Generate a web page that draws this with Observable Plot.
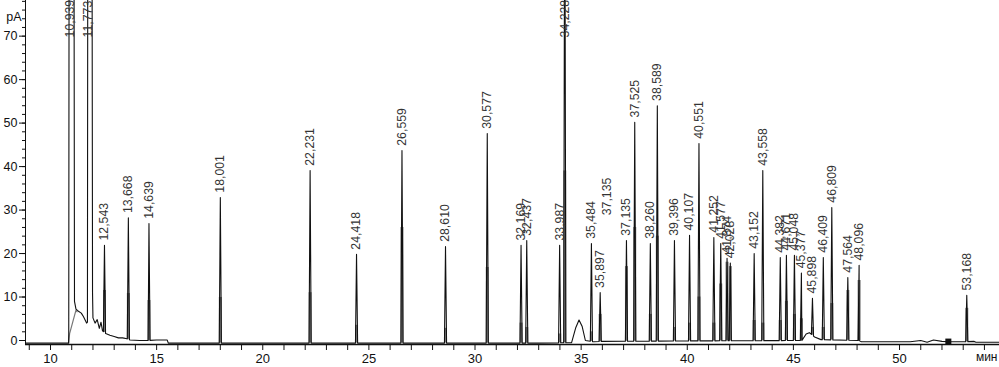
<!DOCTYPE html>
<html>
<head>
<meta charset="utf-8">
<script src="https://cdn.jsdelivr.net/npm/d3@7"></script>
<script src="https://cdn.jsdelivr.net/npm/@observablehq/plot@0.6"></script>
<style>
  html, body { margin: 0; padding: 0; background: #fff; }
  #chart { width: 999px; height: 367px; }
</style>
</head>
<body>
<div id="chart"></div>
<script>
// ---- Data ----
const xDomain = [8.822, 54.71];       // minutes
const yDomain = [-0.92, 78.2];        // pA

// narrow peaks: retention time (min), apex height (pA), height of the grey lower part (pA)
const peakTimes   = [12.543, 13.668, 14.639, 18.001, 22.231, 24.418, 26.559, 28.610, 30.577, 32.169, 32.437, 33.987, 34.228, 35.484, 35.897, 37.135, 37.525, 38.260, 38.589, 39.396, 40.107, 40.551, 41.252, 41.577, 41.874, 42.028, 43.152, 43.558, 44.382, 44.671, 45.048, 45.377, 45.898, 46.409, 46.809, 47.564, 48.096, 53.168];
const peakHeights = [21.9, 28.2, 26.9, 32.9, 39.1, 19.8, 43.7, 21.6, 47.6, 21.9, 23.0, 21.9, 120, 22.3, 11.0, 23.0, 50.2, 22.3, 54.0, 23.0, 24.2, 45.3, 23.7, 22.3, 18.9, 17.8, 20.0, 39.1, 19.1, 19.6, 19.6, 15.5, 9.7, 19.1, 30.6, 14.5, 17.3, 10.4];
const greyHeights = [11.5, 10.8, 9.2, 9.9, 11.0, 3.5, 26.0, 2.8, 16.8, 4.0, 3.0, 1.5, 39.0, 2.0, 6.0, 17.0, 26.0, 6.0, 24.0, 3.0, 4.0, 10.0, 4.0, 13.0, 18.0, 17.0, 4.6, 4.0, 4.6, 9.0, 6.0, 5.0, 3.0, 3.0, 8.5, 11.5, 13.8, 7.4];

// off-scale solvent peaks (labels only; their trace is in the baseline points)
const solventTimes = [10.939, 11.773];

// baseline / solvent tail / broad humps: [minutes, pA]
const baselinePts = [
  [8.822, -0.6], [10.85, -0.6], [10.86, 1.6], [10.88, 120], [11.10, 120], [11.13, 9.0],
  [11.2, 7.2], [11.3, 6.8], [11.45, 6.3], [11.55, 5.5], [11.7, 4.0], [11.74, 4.2],
  [11.76, 120], [11.95, 120], [11.98, 11.0], [12.0, 5.2], [12.1, 4.0], [12.2, 4.8],
  [12.3, 2.8], [12.38, 4.2], [12.45, 2.2], [12.6, 1.6], [12.8, 1.2], [13.0, 0.9],
  [13.2, 0.6], [13.4, 0.6], [13.6, 0.4], [13.75, 0.1], [14.2, 0.0], [14.6, 0.0],
  [15.0, 0.1], [15.5, 0.1], [15.55, -0.6], [33.0, -0.6], [34.55, -0.5], [34.75, 3.0],
  [34.9, 4.7], [35.05, 3.2], [35.2, 0.0], [35.6, -0.3], [36.0, -0.2], [40.0, -0.1],
  [45.4, 0.0], [45.6, 1.5], [45.75, 1.8], [46.0, 0.8], [46.3, 0.2], [48.1, 0.0],
  [48.2, -0.3], [50.5, -0.3], [51.0, 0.0], [51.3, -0.4], [51.6, 0.1], [52.0, -0.2],
  [52.4, -0.3], [53.0, -0.3], [53.5, -0.2], [53.6, -0.4], [54.71, -0.4]
];

// grey fronting line under the solvent peak: [minutes, pA]
const solventFront = [[10.86, -0.6], [10.9, 1.6], [11.2, 7.0], [11.25, 6.6]];

// stray label printed over the 35.9 min peak in the original
const extraLabels = [{t: 36.2, v: 28.8, text: "37,135"}];

// black marker on the baseline
const markerPts = [[52.3, -0.25]];

// axis ticks
const xTicks = d3.range(9, 55, 1);
const yMinorTicks = d3.range(0, 79, 2);
const yMajorTicks = d3.range(0, 71, 10);

// ---- Build tables ----
function baseAt(t) {
  for (let i = 1; i < baselinePts.length; i++) {
    const [t0, v0] = baselinePts[i - 1], [t1, v1] = baselinePts[i];
    if (t <= t1) return v0 + (v1 - v0) * (t - t0) / (t1 - t0);
  }
  return baselinePts[baselinePts.length - 1][1];
}
const halfW = 0.05;
const peaks = peakTimes.map((t, i) => ({t, h: peakHeights[i], g: greyHeights[i], b: baseAt(t)}));
const trace = baselinePts.map(([t, v]) => ({t, v}));
for (const p of peaks) {
  trace.push({t: p.t - halfW, v: baseAt(p.t - halfW)});
  trace.push({t: p.t, v: p.h});
  trace.push({t: p.t + halfW, v: baseAt(p.t + halfW)});
}
trace.sort((a, b) => a.t - b.t);

const fmt = t => t.toFixed(3).replace(".", ",");
const labelTop = 69.7;
const labels = [
  ...solventTimes.map(t => ({t, ly: labelTop, text: fmt(t)})),
  ...peaks.map(p => ({t: p.t, ly: p.h > labelTop ? labelTop : p.h + 1.1, text: fmt(p.t)})),
  ...extraLabels.map(d => ({t: d.t, ly: d.v, text: d.text}))
];

const chart = Plot.plot({
  width: 999,
  height: 367,
  marginLeft: 25,
  marginRight: 0,
  marginTop: 0,
  marginBottom: 23,
  x: {domain: xDomain},
  y: {domain: yDomain},
  style: {fontFamily: "'Liberation Sans', Arial, sans-serif", fontSize: "12.5px", color: "#111", background: "#fff"},
  marks: [
    Plot.ruleX(peaks, {x: "t", y1: "b", y2: "g", stroke: "#7a7a7a", strokeWidth: 3}),
    Plot.line(solventFront, {x: d => d[0], y: d => d[1], stroke: "#777", strokeWidth: 1.2}),
    Plot.line(trace, {x: "t", y: "v", stroke: "#111", strokeWidth: 1.1, clip: true}),
    Plot.dot(markerPts, {x: d => d[0], y: d => d[1], symbol: "square", r: 3.4, fill: "#111"}),
    Plot.text(labels, {x: "t", y: "ly", text: "text", rotate: -90, textAnchor: "start", fontSize: 12.3, fill: "#333"}),
    Plot.ruleX([xDomain[0]], {stroke: "#111"}),
    Plot.ruleY([yDomain[0]], {stroke: "#111", strokeWidth: 1.5}),
    Plot.axisX(xTicks, {tickSize: 6, tickPadding: 3, tickFormat: d => d % 5 === 0 ? String(d) : "", fontSize: 13, label: null}),
    Plot.axisY(yMinorTicks, {tickSize: 3, tickFormat: () => "", label: null}),
    Plot.axisY(yMajorTicks, {tickSize: 6, tickPadding: 2, fontSize: 12.5, label: null}),
    Plot.text(["pA"], {frameAnchor: "top-left", dx: -4, dy: 12, textAnchor: "end", fontSize: 12.5}),
    Plot.text(["мин"], {frameAnchor: "bottom-right", dx: -2, dy: 16, textAnchor: "end", fontSize: 12})
  ]
});
document.getElementById("chart").appendChild(chart);
</script>
</body>
</html>
